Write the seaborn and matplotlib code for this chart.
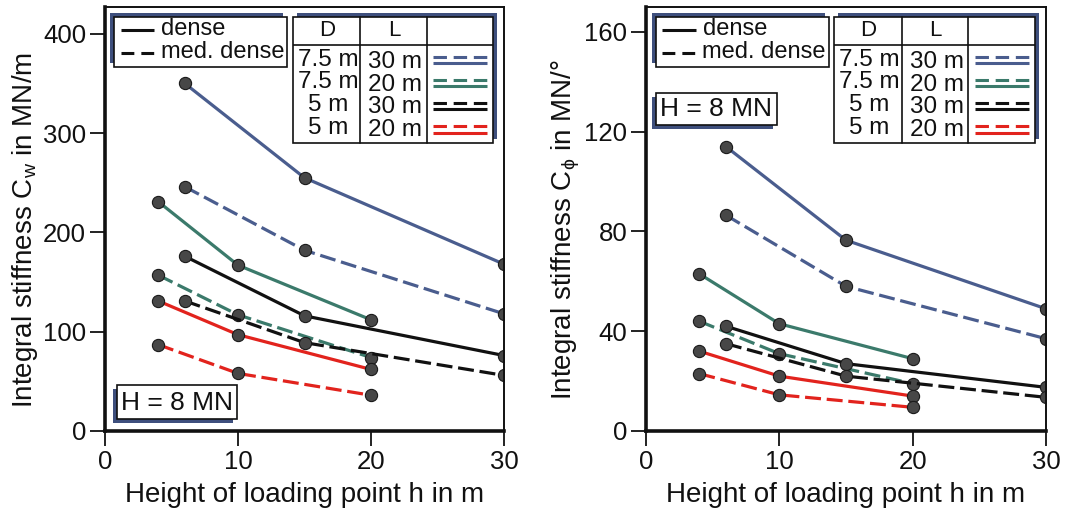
import numpy as np
import pandas as pd
import matplotlib
matplotlib.use("Agg")
import matplotlib.pyplot as plt
import seaborn as sns
from matplotlib.patches import Rectangle
from matplotlib.lines import Line2D

sns.set_theme(style="white")
plt.rcParams["font.family"] = ["Liberation Sans", "DejaVu Sans"]
plt.rcParams["mathtext.fontset"] = "custom"
plt.rcParams["mathtext.rm"] = "Liberation Sans"
plt.rcParams["mathtext.it"] = "Liberation Sans:italic"

# ---------------- data ----------------
h_L30 = [6, 15, 30]
h_L20 = [4, 10, 20]

configs = ["7.5m/30m", "7.5m/20m", "5m/30m", "5m/20m"]
config_D = ["7.5 m", "7.5 m", "5 m", "5 m"]
config_L = ["30 m", "20 m", "30 m", "20 m"]
config_colors = ["#4a5d8e", "#3b7a6b", "#111111", "#e2231d"]
densities = ["dense", "med. dense"]

# C_w in MN/m
cw_75_30_dense = [350, 255, 168]
cw_75_30_med = [246, 182, 118]
cw_75_20_dense = [231, 167, 112]
cw_75_20_med = [157, 117, 74]
cw_5_30_dense = [176, 116, 76]
cw_5_30_med = [131, 89, 56]
cw_5_20_dense = [131, 97, 62]
cw_5_20_med = [87, 58, 36]

# C_phi in MN/deg
cp_75_30_dense = [114, 76.5, 49]
cp_75_30_med = [86.5, 58, 37]
cp_75_20_dense = [63, 43, 29]
cp_75_20_med = [44, 31, 19]
cp_5_30_dense = [42, 27, 17.5]
cp_5_30_med = [35, 22, 13.5]
cp_5_20_dense = [32, 22, 14]
cp_5_20_med = [23, 14.5, 9.5]

series = {
    "Cw": {
        ("7.5m/30m", "dense"): (h_L30, cw_75_30_dense),
        ("7.5m/30m", "med. dense"): (h_L30, cw_75_30_med),
        ("7.5m/20m", "dense"): (h_L20, cw_75_20_dense),
        ("7.5m/20m", "med. dense"): (h_L20, cw_75_20_med),
        ("5m/30m", "dense"): (h_L30, cw_5_30_dense),
        ("5m/30m", "med. dense"): (h_L30, cw_5_30_med),
        ("5m/20m", "dense"): (h_L20, cw_5_20_dense),
        ("5m/20m", "med. dense"): (h_L20, cw_5_20_med),
    },
    "Cphi": {
        ("7.5m/30m", "dense"): (h_L30, cp_75_30_dense),
        ("7.5m/30m", "med. dense"): (h_L30, cp_75_30_med),
        ("7.5m/20m", "dense"): (h_L20, cp_75_20_dense),
        ("7.5m/20m", "med. dense"): (h_L20, cp_75_20_med),
        ("5m/30m", "dense"): (h_L30, cp_5_30_dense),
        ("5m/30m", "med. dense"): (h_L30, cp_5_30_med),
        ("5m/20m", "dense"): (h_L20, cp_5_20_dense),
        ("5m/20m", "med. dense"): (h_L20, cp_5_20_med),
    },
}

rows = []
for panel, d in series.items():
    for (cfg, dens), (hs, vals) in d.items():
        for h, v in zip(hs, vals):
            rows.append(dict(panel=panel, config=cfg, density=dens, h=h, C=v))
df = pd.DataFrame(rows)

# ---------------- figure ----------------
W, H = 1066, 515
fig = plt.figure(figsize=(W / 100, H / 100), dpi=100)
fig.patch.set_facecolor("white")


def fx(x):
    return x / W


def fy(y):
    return 1 - y / H


ax1 = fig.add_axes([fx(105), fy(431), 399 / W, 424 / H])
ax2 = fig.add_axes([fx(646), fy(431), 400 / W, 424 / H])

palette = dict(zip(configs, config_colors))
dash_map = {"dense": "", "med. dense": (5, 1.8)}
marker_map = {"dense": "o", "med. dense": "o"}

panels = [
    (ax1, "Cw", (0, 427), [0, 100, 200, 300, 400],
     "Integral stiffness C$_\\mathregular{w}$ in MN/m"),
    (ax2, "Cphi", (0, 170), [0, 40, 80, 120, 160],
     "Integral stiffness C$_\\mathregular{ϕ}$ in MN/°"),
]

for ax, key, ylim, yticks, ylabel in panels:
    sub = df[df.panel == key]
    sns.lineplot(data=sub, x="h", y="C", hue="config", style="density",
                 hue_order=configs, style_order=densities,
                 palette=palette, dashes=dash_map, markers=marker_map,
                 estimator=None, sort=True, legend=False, ax=ax,
                 linewidth=2.3, markersize=8.8,
                 markerfacecolor="#474747", markeredgecolor="#1a1a1a",
                 markeredgewidth=0.8)
    ax.set_xlim(0, 30)
    ax.set_ylim(*ylim)
    ax.set_xticks([0, 10, 20, 30])
    ax.set_yticks(yticks)
    ax.tick_params(axis="both", labelsize=18.5, length=11, width=1.3,
                   color="#111111", pad=2.5, direction="out",
                   bottom=True, left=True, top=False, right=False)
    for s in ["left", "bottom"]:
        ax.spines[s].set_linewidth(2.6)
        ax.spines[s].set_color("#111111")
    for s in ["top", "right"]:
        ax.spines[s].set_linewidth(1.4)
        ax.spines[s].set_color("#111111")
    ax.set_xlabel("Height of loading point h in m", fontsize=20, color="#111111")
    ax.set_ylabel(ylabel, fontsize=20, color="#111111")
    ax.xaxis.set_label_coords(0.5, -0.151)
    ax.xaxis.label.set_va("center")
    ax.yaxis.set_label_coords(-0.2, 0.475)
    ax.yaxis.label.set_va("center")
    ax.grid(False)
    for lab in ax.get_xticklabels() + ax.get_yticklabels():
        lab.set_color("#111111")

SHADOW = "#3e4f7d"


def box(x0, y0, x1, y1, sdx, sdy):
    fig.add_artist(Rectangle((fx(x0 + sdx), fy(y1 + sdy)), (x1 - x0) / W, (y1 - y0) / H,
                             transform=fig.transFigure, facecolor=SHADOW,
                             edgecolor="none", zorder=5))
    fig.add_artist(Rectangle((fx(x0), fy(y1)), (x1 - x0) / W, (y1 - y0) / H,
                             transform=fig.transFigure, facecolor="white",
                             edgecolor="#111111", linewidth=1.2, zorder=6))


def hline(x0, x1, y, color, lw=1.2, dashes=None):
    ln = Line2D([fx(x0), fx(x1)], [fy(y), fy(y)], transform=fig.transFigure,
                color=color, linewidth=lw, zorder=7, solid_capstyle="butt",
                dash_capstyle="butt")
    if dashes is not None:
        ln.set_dashes(dashes)
    fig.add_artist(ln)


def vline(x, y0, y1):
    fig.add_artist(Line2D([fx(x), fx(x)], [fy(y0), fy(y1)], transform=fig.transFigure,
                          color="#111111", linewidth=1.2, zorder=7))


def txt(x, y, s, ha="center", size=17):
    fig.text(fx(x), fy(y), s, ha=ha, va="center", fontsize=size, color="#111111",
             zorder=8)


for off, hbox in [(0, (117, 385, 237, 419)), (541.5, (656, 93, 777, 124.5))]:
    # density legend
    box(114 + off, 17, 287 + off, 67, -4, -4)
    hline(120.7 + off, 154 + off, 29.5, "#111111", lw=2.2)
    hline(120.7 + off, 154 + off, 52.5, "#111111", lw=2.2, dashes=(4.2, 2.3))
    txt(161 + off, 29, "dense", ha="left", size=17)
    txt(161 + off, 52, "med. dense", ha="left", size=17)
    # table
    tx0, tx1, ty0, ty1 = 292.7 + off, 493.3 + off, 16.7, 143.3
    box(tx0, ty0, tx1, ty1, 4, -4)
    vline(360 + off, ty0, ty1)
    vline(426.7 + off, ty0, ty1)
    hline(tx0, tx1, 45, "#111111", lw=1.2)
    txt(327 + off, 31, "D", size=16)
    txt(394 + off, 31, "L", size=16)
    d_y = [60, 82, 105, 128]
    l_y = [62, 85, 107, 130]
    dash_y = [56.7, 80, 103.3, 126]
    solid_y = [62.7, 86, 109.3, 132.7]
    for i in range(4):
        txt(328 + off, d_y[i], config_D[i], size=17.5)
        txt(395 + off, l_y[i], config_L[i], size=17.5)
        hline(433 + off, 487 + off, dash_y[i], config_colors[i], lw=2.2, dashes=(4.4, 2.2))
        hline(433 + off, 487 + off, solid_y[i], config_colors[i], lw=2.2)
    # H box
    bx0, by0, bx1, by1 = hbox
    box(bx0, by0, bx1, by1, -4, 4)
    txt((bx0 + bx1) / 2, (by0 + by1) / 2 + 0.5, "H = 8 MN", size=19)

fig.savefig("out.png", dpi=100, facecolor="white")
